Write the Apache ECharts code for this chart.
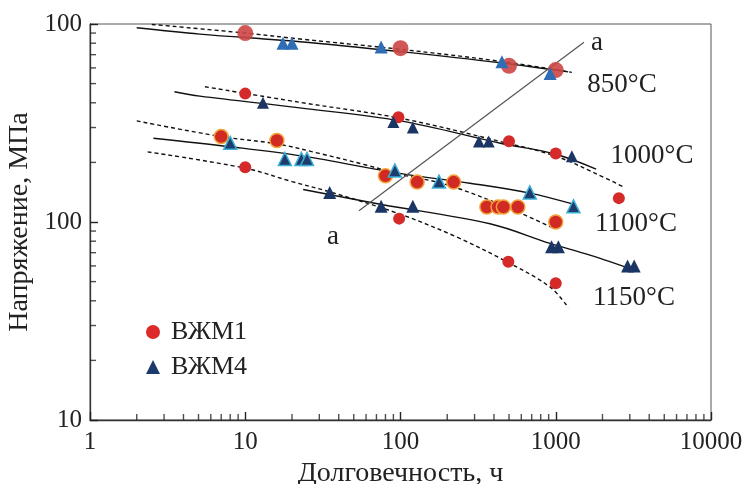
<!DOCTYPE html>
<html><head><meta charset="utf-8">
<script src="https://cdn.jsdelivr.net/npm/echarts@6/dist/echarts.min.js"></script>
<style>html,body{margin:0;padding:0;background:#fff}#c{width:744px;height:484px}</style>
</head><body><div id="c"></div>
<script>
// ---- tick labels / tick positions ----
const xTickValues = [1, 10, 100, 1000, 10000];
const xTickLabels = ['1', '10', '100', '1000', '10000'];
const yTickValues = [10, 100, 1000];
const yTickLabels = ['10', '100', '100'];
const xMinorTicks = [2,3,4,5,6,7,8,9,20,30,40,50,60,70,80,90,200,300,400,500,600,700,800,900,2000,3000,4000,5000,6000,7000,8000,9000];
const yMinorTicks = [20,30,40,50,60,70,80,90,200,300,400,500,600,700,800,900];

// ---- measured points [hours, MPa] ----
const vzhm1_850 = [[10,900],[100,755],[500,615],[1000,585]];
const vzhm4_850 = [[17.5,800],[20,800],[75,765],[450,645],[920,562]];
const vzhm1_1000 = [[10,445],[97,338],[500,256],[1000,222],[2550,132]];
const vzhm4_1000 = [[13,400],[90,320],[120,300],[320,255],[370,255],[1270,215]];
const vzhm1_1100 = [[7,270],[16,258],[80,171],[128,159],[220,159],[360,119],[425,119],[460,119],[570,119],[1000,100]];
const vzhm4_1100 = [[8,251],[18,208],[23,208],[25,208],[92,182],[177,160],[680,141],[1300,120]];
const vzhm1_1150 = [[10,189],[98,104],[495,63],[1000,49]];
const vzhm4_1150 = [[35,141],[75,120],[120,120],[940,75],[1040,75],[2900,60],[3200,60]];

// ---- fitted curves ----
const fit850Solid = [[2,957],[5.1,889],[22.5,814],[100,725],[440,637],[1200,573]];
const fit850Dash = [[2.5,995],[10,900],[22.5,840],[100,745],[440,648],[1270,570]];
const fit1000Solid = [[3.5,455],[5.1,432],[22.5,377],[100,324],[440,250],[1000,220],[1820,185]];
const fit1000Dash = [[5.5,482],[22.5,402],[100,334],[440,255],[1000,215],[1800,176],[2800,149]];
const fit1100Solid = [[2.56,265],[8,240],[23.5,215],[99,176],[280,157],[680,140],[1300,123]];
const fit1100Dash = [[2,324],[7,270],[16,248],[30,222],[60,194],[100,174],[200,154],[480,119],[1000,92]];
const fit1150Solid = [[23.6,146],[74,123],[377,98],[918,78],[1660,68],[3240,57]];
const fit1150Dash = [[2.35,226],[10,187],[20,160],[35,142],[98,110],[230,84],[483,63],[918,47],[1205,37]];
const lineA = [[54,114],[1520,808]];

// ---- annotation texts ----
const annotations = [
  {text: 'a', x: 597, y: 43},
  {text: 'a', x: 333, y: 237},
  {text: '850°C', x: 622, y: 85},
  {text: '1000°C', x: 652, y: 156},
  {text: '1100°C', x: 636, y: 224},
  {text: '1150°C', x: 634, y: 298}
];

const FONT = '"Liberation Serif", "Times New Roman", serif';
const X_MIN = 1, Y_MIN = 10;
const chart = echarts.init(document.getElementById('c'));

function fitLine(data, dashed) {
  return {type: 'line', data: data, smooth: 0.35, symbol: 'none', silent: true, z: 2,
    lineStyle: {color: '#111', width: 1.4, type: dashed ? [4, 3] : 'solid'}};
}
function pts(name, data, symbol, size, color, border, bw) {
  return {type: 'scatter', name: name, data: data, symbol: symbol, symbolSize: size, z: 5,
    itemStyle: {color: color, borderColor: border || color, borderWidth: bw || 0, opacity: 1}};
}
function labelFrom(values, labels) {
  return v => { const i = values.findIndex(t => Math.abs(t - v) / t < 1e-6); return i >= 0 ? labels[i] : ''; };
}
// minor inside ticks: thin rect symbols placed on the axes through the axis scales
function tickSeries(values, isX, len) {
  return {
    type: 'scatter', clip: false, z: 3, silent: true,
    data: values.map(v => isX ? [v, Y_MIN] : [X_MIN, v]),
    symbol: 'rect',
    symbolSize: isX ? [1.4, len] : [len, 1.4],
    symbolOffset: isX ? [0, -len / 2] : [len / 2, 0],
    itemStyle: {color: '#222'}
  };
}

const option = {
  animation: false,
  backgroundColor: '#fff',
  grid: {left: 90, right: 33, top: 24, bottom: 64, show: true, borderColor: '#555', borderWidth: 1,
    containLabel: false, outerBoundsMode: 'none'},
  legend: {
    left: 141, top: 314, orient: 'vertical', itemGap: 9, itemWidth: 14, itemHeight: 14,
    symbolKeepAspect: true,
    textStyle: {fontFamily: FONT, fontSize: 26, color: '#222', padding: [0, 0, 0, 6]},
    selectedMode: false,
    data: [
      {name: 'ВЖМ1', icon: 'circle', itemStyle: {color: '#dd2a2a', borderWidth: 0}},
      {name: 'ВЖМ4', icon: 'triangle', itemStyle: {color: '#1c3a6e', borderWidth: 0}}
    ]
  },
  xAxis: {
    type: 'log', logBase: 10, min: 1, max: 10000,
    name: 'Долговечность, ч', nameLocation: 'middle', nameGap: 34,
    nameTextStyle: {fontFamily: FONT, fontSize: 28, color: '#222'},
    axisLine: {show: true, lineStyle: {color: '#333', width: 1.3}},
    axisTick: {show: true, inside: true, length: 8, lineStyle: {color: '#222', width: 1.4}},
    axisLabel: {show: true, fontFamily: FONT, fontSize: 25, color: '#222', margin: 10,
      formatter: labelFrom(xTickValues, xTickLabels)},
    splitLine: {show: false}
  },
  yAxis: {
    type: 'log', logBase: 10, min: 10, max: 1000,
    name: 'Напряжение, МПа', nameLocation: 'middle', nameGap: 54,
    nameTextStyle: {fontFamily: FONT, fontSize: 28, color: '#222'},
    axisLine: {show: true, lineStyle: {color: '#333', width: 1.3}},
    axisTick: {show: true, inside: true, length: 8, lineStyle: {color: '#222', width: 1.4}},
    axisLabel: {show: true, fontFamily: FONT, fontSize: 25, color: '#222', margin: 8,
      formatter: labelFrom(yTickValues, yTickLabels)},
    splitLine: {show: false}
  },
  series: [
    fitLine(fit850Solid, false), fitLine(fit850Dash, true),
    fitLine(fit1000Solid, false), fitLine(fit1000Dash, true),
    fitLine(fit1100Solid, false), fitLine(fit1100Dash, true),
    fitLine(fit1150Solid, false), fitLine(fit1150Dash, true),
    {type: 'line', data: lineA, symbol: 'none', silent: true, z: 2, lineStyle: {color: '#555', width: 1.2}},
    pts('ВЖМ1', vzhm1_850, 'circle', 16, 'rgba(205,70,70,0.9)'),
    pts('ВЖМ4', vzhm4_850, 'triangle', 13, '#2f6db5'),
    pts('ВЖМ1', vzhm1_1000, 'circle', 12, '#d42a2a'),
    pts('ВЖМ4', vzhm4_1000, 'triangle', 12, '#1b3564'),
    pts('ВЖМ1', vzhm1_1100, 'circle', 14, '#d12a25', '#f2a33a', 1.5),
    pts('ВЖМ4', vzhm4_1100, 'triangle', 13, '#1f3b6d', '#3aaed3', 1.5),
    pts('ВЖМ1', vzhm1_1150, 'circle', 12, '#d42a2a'),
    pts('ВЖМ4', vzhm4_1150, 'triangle', 13, '#1b3564'),
    tickSeries(xMinorTicks, true, 6), tickSeries(yMinorTicks, false, 6)
  ],
  graphic: annotations.map(a => ({
    type: 'text', x: a.x, y: a.y, z: 10, silent: true,
    style: {text: a.text, font: '27px ' + FONT, fill: '#222', align: 'center', verticalAlign: 'middle'}
  }))
};
chart.setOption(option);
</script></body></html>
